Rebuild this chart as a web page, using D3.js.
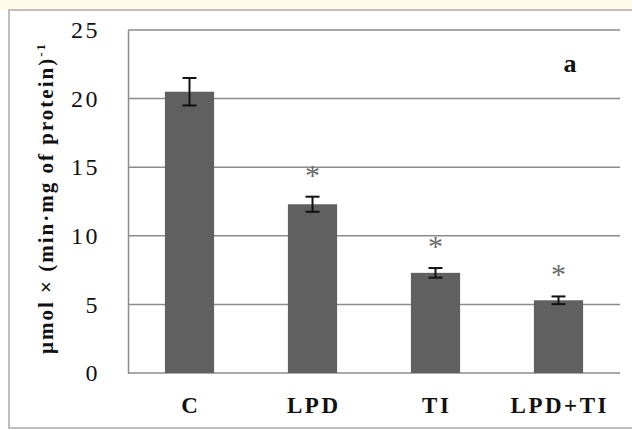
<!DOCTYPE html>
<html>
<head>
<meta charset="utf-8">
<script src="https://cdn.jsdelivr.net/npm/d3@7"></script>
<style>
  html, body { margin: 0; padding: 0; background: #ffffff; }
  svg { display: block; }
  text { font-family: "Liberation Serif", "Times New Roman", serif; }
</style>
</head>
<body>
<script>
// Enzyme activity per group, mean ± error
const categories = ["C", "LPD", "TI", "LPD+TI"];
const means = [20.5, 12.3, 7.3, 5.3];
const errors = [1.0, 0.55, 0.35, 0.28];
const significant = [false, true, true, true];
const yTicks = [0, 5, 10, 15, 20, 25];

const W = 632, H = 430;
const margin = { left: 128, right: 12, top: 30, bottom: 57 };

const svg = d3.select("body").append("svg")
  .attr("width", W).attr("height", H);

// pale strip along the top edge
svg.append("rect")
  .attr("x", 0).attr("y", 0).attr("width", W).attr("height", 10)
  .attr("fill", "#fffbe8");

// white panel with a thin frame
svg.append("rect")
  .attr("x", 9).attr("y", 10)
  .attr("width", W - 9 + 2).attr("height", 418)
  .attr("fill", "#ffffff")
  .attr("stroke", "#a9a9a9").attr("stroke-width", 1.5);

const x = d3.scaleBand()
  .domain(categories)
  .range([margin.left, W - margin.right])
  .paddingInner(0.6).paddingOuter(0.3);

const y = d3.scaleLinear()
  .domain([0, 25])
  .range([H - margin.bottom, margin.top]);

// horizontal gridlines
svg.append("g")
  .selectAll("line")
  .data(yTicks.filter(t => t > 0))
  .join("line")
  .attr("x1", margin.left).attr("x2", W - margin.right)
  .attr("y1", d => y(d)).attr("y2", d => y(d))
  .attr("stroke", "#8c8c8c").attr("stroke-width", 1.5);

// y axis: line plus labels
const yAxis = svg.append("g")
  .attr("transform", `translate(${margin.left},0)`)
  .call(d3.axisLeft(y).tickValues(yTicks).tickSize(0).tickPadding(28));
yAxis.select(".domain").attr("stroke", "#8c8c8c").attr("stroke-width", 1.5);
yAxis.selectAll("text")
  .attr("font-size", 24).attr("fill", "#111")
  .attr("letter-spacing", 2.5)
  .style("font-family", "'Liberation Serif', serif");

// x axis
const xAxis = svg.append("g")
  .attr("transform", `translate(0,${y(0)})`)
  .call(d3.axisBottom(x).tickSize(0).tickPadding(24));
xAxis.select(".domain").attr("stroke", "#8c8c8c").attr("stroke-width", 1.5)
  .attr("d", `M${margin.left},0H${W - margin.right}`);
xAxis.selectAll("text")
  .attr("font-size", 23).attr("font-weight", "bold").attr("fill", "#111")
  .attr("letter-spacing", 2.5).attr("dx", 1.25)
  .style("font-family", "'Liberation Serif', serif");

// bars
svg.append("g")
  .selectAll("rect")
  .data(categories)
  .join("rect")
  .attr("x", d => x(d))
  .attr("width", x.bandwidth())
  .attr("y", (d, i) => y(means[i]))
  .attr("height", (d, i) => y(0) - y(means[i]))
  .attr("fill", "#606060");

// error bars
const eb = svg.append("g").attr("stroke", "#111").attr("stroke-width", 2);
categories.forEach((c, i) => {
  const cx = x(c) + x.bandwidth() / 2;
  const top = y(means[i] + errors[i]), bot = y(means[i] - errors[i]);
  eb.append("line").attr("x1", cx).attr("x2", cx).attr("y1", top).attr("y2", bot);
  eb.append("line").attr("x1", cx - 7).attr("x2", cx + 7).attr("y1", top).attr("y2", top);
  eb.append("line").attr("x1", cx - 7).attr("x2", cx + 7).attr("y1", bot).attr("y2", bot);
});

// significance marks
svg.append("g")
  .selectAll("text")
  .data(categories.filter((c, i) => significant[i]))
  .join("text")
  .attr("x", d => x(d) + x.bandwidth() / 2)
  .attr("y", d => {
    const i = categories.indexOf(d);
    return y(means[i] + errors[i]) - 12;
  })
  .attr("text-anchor", "middle")
  .attr("font-size", 30)
  .attr("fill", "#6a6a6a")
  .text("*");

// panel letter
svg.append("text")
  .attr("x", 570).attr("y", 72)
  .attr("text-anchor", "middle")
  .attr("font-size", 26).attr("font-weight", "bold").attr("fill", "#111")
  .text("a");

// y axis title
const yt = svg.append("text")
  .attr("transform", `translate(53,198) rotate(-90)`)
  .attr("text-anchor", "middle")
  .attr("font-size", 21).attr("font-weight", "bold").attr("fill", "#111")
  .attr("letter-spacing", 2);
yt.append("tspan").text("μmol × (min·mg of protein)");
yt.append("tspan").attr("dy", -8).attr("font-size", 13).text("-1");
</script>
</body>
</html>
